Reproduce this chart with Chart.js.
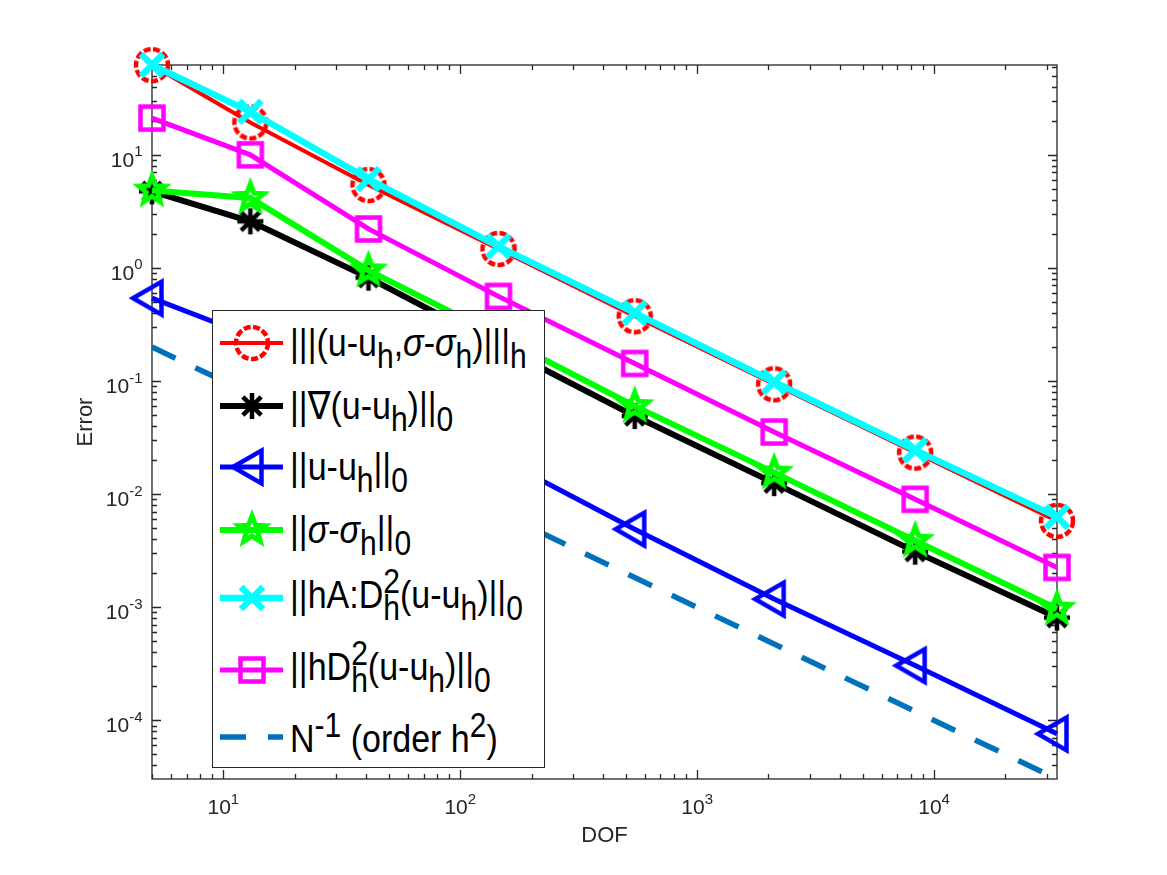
<html lang="en">
  <head>
    <title>Error vs DOF</title>
    <meta charset="utf-8">
    <script src="https://cdn.jsdelivr.net/npm/chart.js@4.4.1/dist/chart.umd.min.js"></script>
    <style>
      body { margin: 0; background: #fff; }
      #wrap { position: relative; width: 1167px; height: 875px; }
      #legend { position: absolute; left: 212px; top: 310px; width: 333px; height: 458px;
                box-sizing: border-box; border: 1.3px solid #262626; background: #fff; }
      .sample { position: absolute; left: 218px; }
      /* glyphs in the original are a bit taller than Liberation Sans, hence the stretch */
      .txt { position: absolute; left: 290px; white-space: nowrap; color: #000;
             font: 34px "Liberation Sans", "DejaVu Sans", sans-serif; line-height: 34px;
             transform: scaleY(1.15); transform-origin: 0 28.8px; }
      .b { font-size: 30px; position: relative; top: 10px; }
      .p { font-size: 30px; position: relative; top: -13px; }
      .bs { font-size: 30px; position: relative; top: 10px; margin-left: -0.556em; }
    </style>
  </head>
  <body>
  <div id="wrap">
    <canvas id="myChart" width="1167" height="875"></canvas>
    <div id="legend"></div>
  </div>
  <script>
    // mesh sizes and errors
    var dof = [5, 13, 41, 145, 545, 2113, 8321, 33025];
    var errTriple = [62.0, 19.3, 5.4, 1.47, 0.374, 0.0935, 0.0233, 0.0058];
    var errGrad = [4.75, 2.58, 0.82, 0.205, 0.049, 0.0125, 0.0031, 0.00081];
    var errL2 = [0.54, 0.25, 0.078, 0.021, 0.0049, 0.00118, 0.000305, 0.000076];
    var errSigma = [4.84, 4.15, 0.95, 0.25, 0.060, 0.0155, 0.00387, 0.00097];
    var errHessA = [62.2, 24.0, 6.1, 1.55, 0.40, 0.098, 0.0245, 0.0063];
    var errHess = [21.1, 10.0, 2.21, 0.56, 0.143, 0.0354, 0.0090, 0.00225];
    var refRate = [0.2, 0.0769, 0.0244, 0.0069, 0.00183, 0.000473, 0.000120, 0.0000303];

    var xLim = [5, 33025];
    var yLim = [3.03e-5, 62.2];

    var seriesLabels = [
      '|||(u-u<span class="b">h</span>,<i>σ</i>-<i>σ</i><span class="b">h</span>)|||<span class="b">h</span>',
      '||∇(u-u<span class="b">h</span>)||<span class="b">0</span>',
      '||u-u<span class="b">h</span>||<span class="b">0</span>',
      '||<i>σ</i>-<i>σ</i><span class="b">h</span>||<span class="b">0</span>',
      '||hA:D<span class="p">2</span><span class="bs">h</span>(u-u<span class="b">h</span>)||<span class="b">0</span>',
      '||hD<span class="p">2</span><span class="bs">h</span>(u-u<span class="b">h</span>)||<span class="b">0</span>',
      'N<span class="p">-1</span> (order h<span class="p">2</span>)'
    ];

    // marker glyphs, matlab style (hollow)
    function makeMarker(kind, color) {
      var c = document.createElement('canvas');
      c.width = 56; c.height = 56;
      var g = c.getContext('2d');
      var m = 28;
      g.strokeStyle = color;
      g.beginPath();
      if (kind == 'ring') {
        g.lineWidth = 4.5;
        g.setLineDash([7, 2.5]);
        g.arc(m, m, 16, 0, Math.PI * 2);
      } else if (kind == 'asterisk') {
        g.lineWidth = 4.5;
        var r = 13, d = r * Math.SQRT1_2;
        g.moveTo(m - r, m); g.lineTo(m + r, m);
        g.moveTo(m, m - r); g.lineTo(m, m + r);
        g.moveTo(m - d, m - d); g.lineTo(m + d, m + d);
        g.moveTo(m - d, m + d); g.lineTo(m + d, m - d);
      } else if (kind == 'tri') {
        g.lineWidth = 4.5;
        var R = 19;
        g.moveTo(m - R, m);
        g.lineTo(m + R / 2, m - R * 0.866);
        g.lineTo(m + R / 2, m + R * 0.866);
        g.closePath();
      } else if (kind == 'penta') {
        g.lineWidth = 5;
        for (var k = 0; k < 10; k++) {
          var a = -Math.PI / 2 + k * Math.PI / 5;
          var rr = (k % 2) ? 6 : 14;
          if (k == 0) g.moveTo(m + rr * Math.cos(a), m + rr * Math.sin(a));
          else g.lineTo(m + rr * Math.cos(a), m + rr * Math.sin(a));
        }
        g.closePath();
      } else if (kind == 'x') {
        g.lineWidth = 6.5;
        var s = 11;
        g.moveTo(m - s, m - s); g.lineTo(m + s, m + s);
        g.moveTo(m - s, m + s); g.lineTo(m + s, m - s);
      } else if (kind == 'square') {
        g.lineWidth = 4.5;
        g.rect(m - 11.5, m - 11.5, 23, 23);
      }
      g.stroke();
      return c;
    }

    var styles = [
      { color: '#ff0000', width: 4, marker: 'ring' },
      { color: '#000000', width: 6, marker: 'asterisk' },
      { color: '#0000ff', width: 5, marker: 'tri' },
      { color: '#00ff00', width: 6, marker: 'penta' },
      { color: '#00ffff', width: 6.5, marker: 'x' },
      { color: '#ff00ff', width: 5, marker: 'square' },
      { color: '#0072bd', width: 5.5, marker: null, dash: [26, 22] }
    ];
    var series = [errTriple, errGrad, errL2, errSigma, errHessA, errHess, refRate];

    var dataSets = [];
    for (var i = 0; i < series.length; i++) {
      var st = styles[i];
      var img = st.marker ? makeMarker(st.marker, st.color) : null;
      st.img = img;
      dataSets.push({
        label: 'series' + i,
        data: dof.map(function (x, j) { return { x: x, y: series[i][j] }; }),
        borderColor: st.color,
        borderWidth: st.width,
        borderDash: st.dash || [],
        borderCapStyle: 'butt',
        pointStyle: img || false,
        pointRadius: img ? 16 : 0,
        pointBorderWidth: 0,
        fill: false,
        tension: 0,
        clip: false,
        order: -i
      });
    }

    // box, inward ticks and 10^k labels, matlab look
    var axisDecor = {
      id: 'axisDecor',
      beforeDatasetsDraw: function (chart) {
        var ctx = chart.ctx, a = chart.chartArea;
        var xs = chart.scales.x, ys = chart.scales.y;
        ctx.save();
        ctx.strokeStyle = '#262626';
        ctx.fillStyle = '#262626';
        ctx.lineWidth = 1.3;
        ctx.strokeRect(a.left, a.top, a.right - a.left, a.bottom - a.top);

        function pow10(e, x, y, align) {
          ctx.font = '21px "Liberation Sans", Arial, sans-serif';
          var w1 = ctx.measureText('10').width;
          ctx.font = '15px "Liberation Sans", Arial, sans-serif';
          var w2 = ctx.measureText(String(e)).width;
          var x0 = align == 'right' ? x - w1 - w2 : x - (w1 + w2) / 2;
          ctx.textAlign = 'left';
          ctx.font = '21px "Liberation Sans", Arial, sans-serif';
          ctx.fillText('10', x0, y);
          ctx.font = '15px "Liberation Sans", Arial, sans-serif';
          ctx.fillText(String(e), x0 + w1, y - 10.5);
        }

        ctx.beginPath();
        for (var e = -6; e <= 6; e++) {
          for (var m = 1; m < 10; m++) {
            var v = m * Math.pow(10, e);
            var len = m == 1 ? 9 : 5;
            if (v >= xLim[0] * 0.999 && v <= xLim[1] * 1.001) {
              var px = Math.round(xs.getPixelForValue(v)) + 0.5;
              ctx.moveTo(px, a.bottom); ctx.lineTo(px, a.bottom - len);
              ctx.moveTo(px, a.top); ctx.lineTo(px, a.top + len);
            }
            if (v >= yLim[0] * 0.999 && v <= yLim[1] * 1.001) {
              var py = Math.round(ys.getPixelForValue(v)) + 0.5;
              ctx.moveTo(a.left, py); ctx.lineTo(a.left + len, py);
              ctx.moveTo(a.right, py); ctx.lineTo(a.right - len, py);
            }
          }
        }
        ctx.stroke();

        for (var e = -6; e <= 6; e++) {
          var v = Math.pow(10, e);
          if (v >= xLim[0] && v <= xLim[1]) pow10(e, xs.getPixelForValue(v), 814, 'center');
          if (v >= yLim[0] && v <= yLim[1]) pow10(e, a.left - 9.5, ys.getPixelForValue(v) + 12, 'right');
        }

        // axis titles
        ctx.font = '22px "Liberation Sans", Arial, sans-serif';
        ctx.textAlign = 'center';
        ctx.fillText('DOF', (a.left + a.right) / 2, 842);
        ctx.translate(92, (a.top + a.bottom) / 2);
        ctx.rotate(-Math.PI / 2);
        ctx.fillText('Error', 0, 0);
        ctx.restore();
      }
    };

    var ctx = document.getElementById('myChart').getContext('2d');
    new Chart(ctx, {
      type: 'line',
      data: { datasets: dataSets },
      options: {
        responsive: false,
        animation: false,
        events: [],
        layout: { padding: { left: 152, right: 110, top: 65, bottom: 96 } },
        scales: {
          x: { type: 'logarithmic', min: xLim[0], max: xLim[1], display: false },
          y: { type: 'logarithmic', min: yLim[0], max: yLim[1], display: false }
        },
        plugins: { legend: { display: false }, tooltip: { enabled: false } }
      },
      plugins: [axisDecor]
    });

    // legend with sub/superscripts
    var rowY = [343, 406, 467, 530, 598, 670, 737];
    var baseOff = [13, 13, 13, 13, 10, 10, 15];
    var wrap = document.getElementById('wrap');
    for (var i = 0; i < seriesLabels.length; i++) {
      var st = styles[i];
      var cv = document.createElement('canvas');
      cv.width = 68; cv.height = 56;
      cv.className = 'sample';
      cv.style.top = (rowY[i] - 28) + 'px';
      var g = cv.getContext('2d');
      g.strokeStyle = st.color;
      g.lineWidth = st.width;
      g.setLineDash(st.dash || []);
      g.beginPath(); g.moveTo(2, 28); g.lineTo(65, 28); g.stroke();
      if (st.img) g.drawImage(st.img, 34 - 28, 0);
      wrap.appendChild(cv);
      var t = document.createElement('div');
      t.className = 'txt';
      // baseline sits ~28.8px below the box top for 34px text
      t.style.top = (rowY[i] + baseOff[i] - 28.8) + 'px';
      t.innerHTML = seriesLabels[i];
      wrap.appendChild(t);
    }
  </script>
  </body>
</html>
